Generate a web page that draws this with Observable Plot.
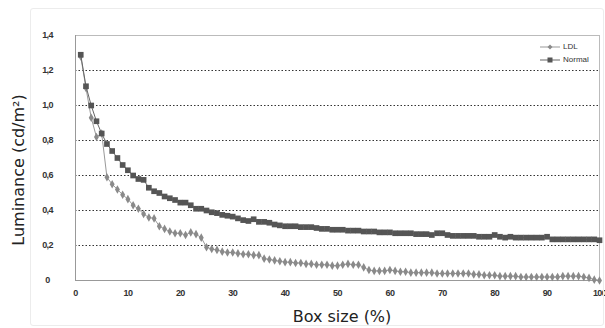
<!DOCTYPE html>
<html><head><meta charset="utf-8">
<script src="https://cdn.jsdelivr.net/npm/d3@7"></script>
<script src="https://cdn.jsdelivr.net/npm/@observablehq/plot@0.6"></script>
<style>
body{margin:0;background:#fff;}
#wrap{position:relative;width:605px;height:328px;overflow:hidden;}
#border{position:absolute;left:30px;top:8px;width:572px;height:316px;border:1px solid #ececec;border-radius:3px;}
#legend{position:absolute;left:538px;top:40px;width:59px;height:30px;background:#fff;font:8px "Liberation Sans",Arial,sans-serif;color:#333;}
#legend div{height:13px;display:flex;align-items:center;}
</style></head>
<body><div id="wrap"><div id="border"></div></div>
<script>
const boxSize = [1,2,3,4,5,6,7,8,9,10,11,12,13,14,15,16,17,18,19,20,21,22,23,24,25,26,27,28,29,30,31,32,33,34,35,36,37,38,39,40,41,42,43,44,45,46,47,48,49,50,51,52,53,54,55,56,57,58,59,60,61,62,63,64,65,66,67,68,69,70,71,72,73,74,75,76,77,78,79,80,81,82,83,84,85,86,87,88,89,90,91,92,93,94,95,96,97,98,99,100];
const normal = [1.29,1.11,1.00,0.91,0.84,0.78,0.74,0.70,0.66,0.63,
 0.60,0.58,0.575,0.53,0.51,0.50,0.48,0.47,0.46,0.445,
 0.445,0.43,0.41,0.41,0.40,0.39,0.385,0.375,0.37,0.365,
 0.355,0.345,0.34,0.35,0.335,0.335,0.33,0.32,0.315,0.31,
 0.31,0.31,0.305,0.305,0.305,0.30,0.295,0.295,0.29,0.29,
 0.29,0.285,0.285,0.285,0.28,0.28,0.28,0.275,0.275,0.275,
 0.27,0.27,0.27,0.27,0.265,0.265,0.265,0.26,0.27,0.27,
 0.26,0.255,0.255,0.255,0.255,0.255,0.25,0.25,0.25,0.26,
 0.25,0.245,0.25,0.245,0.245,0.245,0.245,0.245,0.245,0.25,
 0.235,0.235,0.235,0.235,0.235,0.235,0.235,0.235,0.235,0.23];
const ldl = [1.28,1.10,0.93,0.82,0.84,0.59,0.55,0.52,0.49,0.465,
 0.43,0.41,0.38,0.36,0.355,0.31,0.295,0.28,0.27,0.27,
 0.26,0.275,0.265,0.245,0.19,0.18,0.175,0.165,0.16,0.16,
 0.155,0.15,0.15,0.145,0.145,0.125,0.12,0.115,0.11,0.105,
 0.105,0.10,0.10,0.095,0.095,0.09,0.09,0.09,0.085,0.085,
 0.09,0.095,0.09,0.09,0.075,0.06,0.055,0.055,0.055,0.06,
 0.055,0.05,0.05,0.045,0.045,0.045,0.045,0.045,0.04,0.04,
 0.04,0.04,0.04,0.04,0.04,0.035,0.035,0.03,0.03,0.03,
 0.025,0.025,0.025,0.025,0.02,0.02,0.02,0.02,0.02,0.02,
 0.02,0.02,0.025,0.025,0.025,0.025,0.02,0.015,0.005,0.0];
const xTicks = [0,10,20,30,40,50,60,70,80,90,100];
const yTicks = [0,0.2,0.4,0.6,0.8,1.0,1.2,1.4];
const gridTicks = [0.2,0.4,0.6,0.8,1.0,1.2];
const seriesNames = ["LDL","Normal"];

const normalData = boxSize.map((x,i)=>({x, y: normal[i]}));
const ldlData = boxSize.map((x,i)=>({x, y: ldl[i]}));
const fmt = d => d === 0 ? "0" : d.toFixed(1).replace(".", ",");
const tickFont = "'Liberation Sans',Arial,sans-serif";

const chart = Plot.plot({
  width: 605, height: 328,
  marginLeft: 75, marginRight: 6, marginTop: 35, marginBottom: 48,
  style: {background: "transparent", overflow: "visible"},
  x: {domain: [0, 100]},
  y: {domain: [0, 1.4]},
  marks: [
    Plot.ruleY(gridTicks, {stroke: "#333", strokeWidth: 1.2, strokeDasharray: "1.5,2"}),
    Plot.frame({stroke: "#bbb"}),
    Plot.ruleX([0], {stroke: "#999"}),
    Plot.ruleY([0], {stroke: "#999"}),
    Plot.axisX({ticks: xTicks, tickSize: 0, tickPadding: 9, tickFormat: d => String(d),
      fontSize: 9, fontWeight: "bold", fill: "#333", fontFamily: tickFont,
      label: null}),
    Plot.axisY({ticks: yTicks, tickSize: 0, tickPadding: 28, textAnchor: "middle", tickFormat: fmt,
      fontSize: 9, fontWeight: "bold", fill: "#333", fontFamily: tickFont,
      label: null}),
    Plot.line(ldlData, {x: "x", y: "y", stroke: "#999", strokeWidth: 1}),
    Plot.dot(ldlData, {x: "x", y: "y", symbol: "diamond", r: 2.6, fill: "#8a8a8a"}),
    Plot.line(normalData, {x: "x", y: "y", stroke: "#666", strokeWidth: 1}),
    Plot.dot(normalData, {x: "x", y: "y", symbol: "square", r: 3.2, fill: "#555"})
  ]
});
const svg = d3.select(chart);
svg.selectAll("[aria-label='x-axis tick label'] text, [aria-label='y-axis tick label'] text")
  .attr("letter-spacing", "-0.6px");
svg.append("text").attr("x", 342).attr("y", 322).attr("text-anchor", "middle")
  .attr("font-family", "'DejaVu Sans',Verdana,sans-serif").attr("font-size", 16).attr("fill", "#222")
  .text("Box size (%)");
svg.append("text").attr("transform", "translate(24,170) rotate(-90)").attr("text-anchor", "middle")
  .attr("font-family", "'DejaVu Sans',Verdana,sans-serif").attr("font-size", 16).attr("fill", "#222")
  .text("Luminance (cd/m²)");
document.getElementById("wrap").appendChild(chart);

const legend = document.createElement("div");
legend.id = "legend";
const icons = {
  LDL: '<svg width="24" height="8"><line x1="2" y1="4" x2="22" y2="4" stroke="#999"/><path d="M12 1.5 L14.5 4 L12 6.5 L9.5 4Z" fill="#8a8a8a"/></svg>',
  Normal: '<svg width="24" height="8"><line x1="2" y1="4" x2="22" y2="4" stroke="#666"/><rect x="9.5" y="1.5" width="5" height="5" fill="#555"/></svg>'
};
seriesNames.forEach(n => {
  const row = document.createElement("div");
  row.innerHTML = icons[n] + '<span style="margin-left:1px">' + n + '</span>';
  legend.appendChild(row);
});
document.getElementById("wrap").appendChild(legend);
</script></body></html>
